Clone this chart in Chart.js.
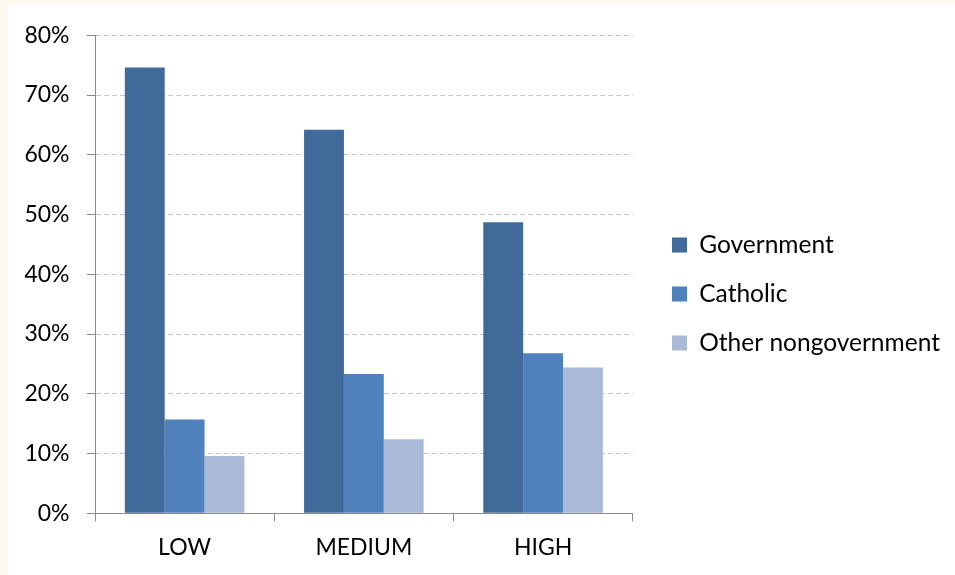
<!DOCTYPE html>
<html>
<head>
<meta charset="utf-8">
<script src="https://cdn.jsdelivr.net/npm/chart.js@4/dist/chart.umd.min.js"></script>
<style>
  html, body { margin: 0; padding: 0; background: #FEF9EF; }
  #frame { position: absolute; left: 7px; top: 4px; width: 948px; height: 571px; background: #ffffff; }
  canvas { display: block; }
</style>
</head>
<body>
<div id="frame"><canvas id="chart" width="948" height="571"></canvas></div>
<script>
// School sector shares by socio-economic level (percent)
const categories = ['LOW', 'MEDIUM', 'HIGH'];
const government = [74.6, 64.2, 48.7];
const catholic = [15.7, 23.3, 26.8];
const otherNongovernment = [9.6, 12.4, 24.4];
const seriesNames = ['Government', 'Catholic', 'Other nongovernment'];
const seriesColors = ['#3F6A9A', '#4F81BD', '#AAB9D6'];
const yMin = 0, yMax = 80, yStep = 10;

const AXIS_GREY = '#898989';
const GRID_GREY = '#C6C6C6';

Chart.defaults.font.family = 'Lato, "Open Sans", sans-serif';
Chart.defaults.font.size = 23;
Chart.defaults.color = '#000000';

// Fixes the legend's column width and nudges it into place beside the plot
const legendPlacement = {
  id: 'legendPlacement',
  beforeLayout(chart) {
    const legend = chart.legend;
    if (legend && !legend._fixedFit) {
      const baseFit = legend.fit.bind(legend);
      legend.fit = function () {
        baseFit();
        this.width = 322.3;
      };
      legend._fixedFit = true;
    }
  },
  afterLayout(chart) {
    const legend = chart.legend;
    const dx = 14.8, dy = -10.2;
    legend.left += dx; legend.right += dx;
    legend.top += dy; legend.bottom += dy;
  }
};

new Chart(document.getElementById('chart'), {
  type: 'bar',
  data: {
    labels: categories,
    datasets: [government, catholic, otherNongovernment].map((values, i) => ({
      label: seriesNames[i],
      data: values,
      backgroundColor: seriesColors[i],
      borderWidth: 0,
      categoryPercentage: 0.667,
      barPercentage: 1.0
    }))
  },
  options: {
    responsive: false,
    animation: false,
    layout: { padding: { top: 29.3, left: 0, right: 0, bottom: 0 } },
    plugins: {
      tooltip: { enabled: false },
      legend: {
        position: 'right',
        align: 'center',
        labels: {
          boxWidth: 15,
          boxHeight: 15,
          padding: 24.5,
          color: '#000000',
          font: { size: 24.5 }
        }
      }
    },
    scales: {
      x: {
        grid: {
          drawOnChartArea: false,
          drawTicks: true,
          tickLength: 8,
          tickColor: AXIS_GREY,
          offset: true
        },
        border: { color: AXIS_GREY, width: 1 },
        ticks: { padding: 12, color: '#000000', font: { size: 23 } },
        afterFit(scale) { scale.height = 61.7; }
      },
      y: {
        min: yMin,
        max: yMax,
        grid: {
          color: GRID_GREY,
          lineWidth: 1,
          tickLength: 8,
          tickColor: AXIS_GREY,
          tickBorderDash: []
        },
        border: { color: AXIS_GREY, width: 1, dash: [5, 3] },
        ticks: {
          stepSize: yStep,
          padding: 17.5,
          color: '#000000',
          font: { size: 23 },
          callback: v => v + '%'
        },
        afterFit(scale) { scale.width = 88; }
      }
    }
  },
  plugins: [legendPlacement]
});
</script>
</body>
</html>
